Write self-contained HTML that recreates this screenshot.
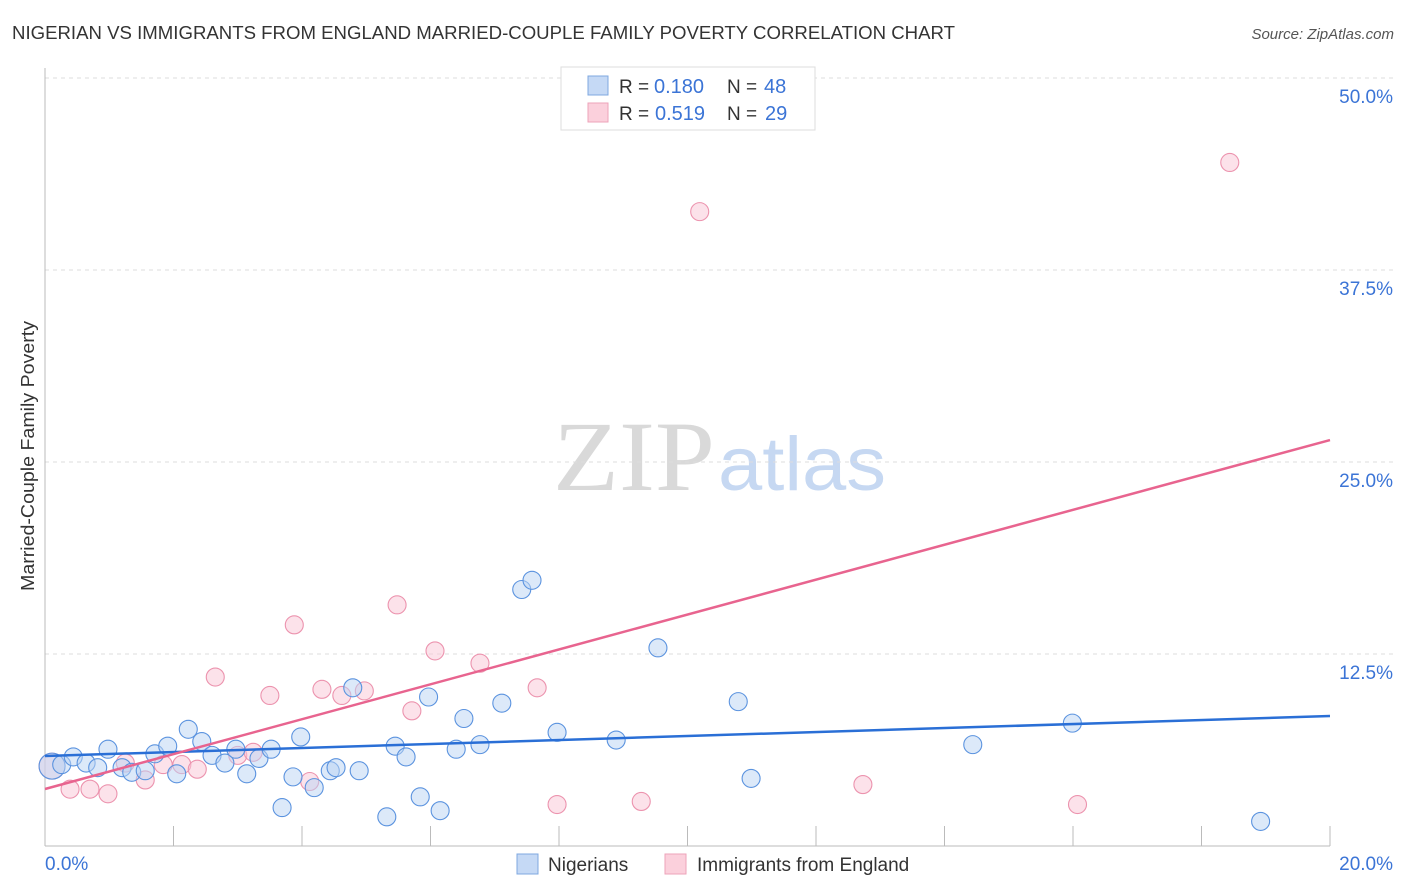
<!DOCTYPE html>
<html><head><meta charset="utf-8"><style>
body{margin:0;background:#fff;font-family:"Liberation Sans",sans-serif;}
#wrap{position:relative;width:1406px;height:892px;overflow:hidden;}
</style></head><body><div id="wrap">
<svg id="svg" width="1406" height="892" xmlns="http://www.w3.org/2000/svg">
<text x="12" y="39" font-size="18" fill="#333" textLength="943" lengthAdjust="spacingAndGlyphs">NIGERIAN VS IMMIGRANTS FROM ENGLAND MARRIED-COUPLE FAMILY POVERTY CORRELATION CHART</text>
<text x="1394" y="39" font-size="15" fill="#555" font-style="italic" text-anchor="end">Source: ZipAtlas.com</text>
<text x="34" y="456" font-size="18" fill="#333" text-anchor="middle" transform="rotate(-90 34 456)" textLength="270" lengthAdjust="spacingAndGlyphs">Married-Couple Family Poverty</text>
<text x="553" y="490" font-size="100" fill="#d9d9d9" font-family="Liberation Serif,serif" textLength="162" lengthAdjust="spacingAndGlyphs">ZIP</text>
<text x="718" y="490" font-size="76" fill="#c6d8f2" textLength="168" lengthAdjust="spacingAndGlyphs">atlas</text>
<g id="grid"></g><g id="axes"></g><g id="pts"></g><g id="lines"></g>
<g>
<rect x="561" y="67" width="254" height="63" fill="#fff" stroke="#ddd"/>
<rect x="588" y="76" width="20" height="19" fill="#c5d9f5" stroke="#7fa8e0"/>
<rect x="588" y="103" width="20" height="19" fill="#fbd0dc" stroke="#eea3ba"/>
<text x="619" y="93" font-size="19" fill="#333">R =</text><text x="654" y="93" font-size="20" fill="#3b74d6">0.180</text>
<text x="727" y="93" font-size="19" fill="#333">N =</text><text x="764" y="93" font-size="20" fill="#3b74d6">48</text>
<text x="619" y="120" font-size="19" fill="#333">R =</text><text x="655" y="120" font-size="20" fill="#3b74d6">0.519</text>
<text x="727" y="120" font-size="19" fill="#333">N =</text><text x="765" y="120" font-size="20" fill="#3b74d6">29</text>
</g>
<g>
<rect x="517" y="854" width="21" height="20" fill="#c5d9f5" stroke="#7fa8e0"/>
<text x="548" y="871" font-size="19" fill="#333">Nigerians</text>
<rect x="665" y="854" width="21" height="20" fill="#fbd0dc" stroke="#eea3ba"/>
<text x="697" y="871" font-size="19" fill="#333">Immigrants from England</text>
</g>
</svg></div>
<script>
const yTicks=[12.5,25.0,37.5,50.0];
const xTickLabels=["0.0%","20.0%"];
const blueX=[0.11,0.26,0.44,0.64,0.82,0.98,1.2,1.35,1.56,1.71,1.91,2.05,2.23,2.44,2.6,2.8,2.97,3.14,3.33,3.52,3.69,3.86,3.98,4.19,4.44,4.53,4.79,4.89,5.32,5.45,5.62,5.84,5.97,6.15,6.4,6.52,6.77,7.11,7.42,7.58,7.97,8.89,9.54,10.79,10.99,14.44,15.99,18.92];
const blueY=[5.2,5.3,5.8,5.4,5.1,6.3,5.1,4.8,4.9,6.0,6.5,4.7,7.6,6.8,5.9,5.4,6.3,4.7,5.7,6.3,2.5,4.5,7.1,3.8,4.9,5.1,10.3,4.9,1.9,6.5,5.8,3.2,9.7,2.3,6.3,8.3,6.6,9.3,16.7,17.3,7.4,6.9,12.9,9.4,4.4,6.6,8.0,1.6];
const pinkX=[0.11,0.39,0.7,0.98,1.25,1.56,1.84,2.13,2.37,2.65,3.0,3.24,3.5,3.88,4.12,4.31,4.62,4.97,5.48,5.71,6.07,6.77,7.66,7.97,9.28,10.19,12.73,16.07,18.44];
const pinkY=[5.2,3.7,3.7,3.4,5.4,4.3,5.3,5.3,5.0,11.0,5.9,6.1,9.8,14.4,4.2,10.2,9.8,10.1,15.7,8.8,12.7,11.9,10.3,2.7,2.9,41.3,4.0,2.7,44.5];
const blueTrend=[5.86,8.46];
const pinkTrend=[3.71,26.43];
const NS="http://www.w3.org/2000/svg";
const X0=45,X1=1330,Y0=846,Y50=78;
const sx=v=>X0+(v/20)*(X1-X0);
const sy=v=>Y0-(v/50)*(Y0-Y50);
function mk(t,a,p){const e=document.createElementNS(NS,t);for(const k in a)e.setAttribute(k,a[k]);p.appendChild(e);return e;}
const grid=document.getElementById('grid'),axes=document.getElementById('axes'),pts=document.getElementById('pts'),lines=document.getElementById('lines');
yTicks.forEach(v=>{
 const l=mk('line',{x1:X0,x2:1393,y1:sy(v),y2:sy(v),stroke:'#ddd','stroke-dasharray':'4,4'},grid);
 
 
 const t=mk('text',{x:1393,y:sy(v)+25,'font-size':19,fill:'#3b74d6','text-anchor':'end'},grid);
 t.textContent=v.toFixed(1)+'%';
 
 
});
const ax=mk('line',{x1:X0,x2:X0,y1:68,y2:Y0,stroke:'#bbb'},axes);


const bx=mk('line',{x1:X0,x2:X1,y1:Y0,y2:Y0,stroke:'#bbb'},axes);


for(let i=1;i<=10;i++){const tk=mk('line',{x1:sx(i*2),x2:sx(i*2),y1:826,y2:Y0,stroke:'#bbb'},axes);
 
 }
const xl0=mk('text',{x:45,y:870,'font-size':19,fill:'#3b74d6'},axes);xl0.textContent=xTickLabels[0];


const xl1=mk('text',{x:1393,y:870,'font-size':19,fill:'#3b74d6','text-anchor':'end'},axes);xl1.textContent=xTickLabels[1];


function dots(xs,ys,fill,stroke,name){xs.forEach((x,i)=>{
 const c=mk('circle',{cx:sx(x),cy:sy(ys[i]),r:i===0?13:9,fill:fill,'fill-opacity':0.5,stroke:stroke,'stroke-width':1.1},pts);
 
 });}
dots(pinkX,pinkY,'#f9c6d5','#ec93ae','england-point');
dots(blueX,blueY,'#bad3f3','#5b93df','nigerian-point');
const bl=mk('line',{x1:sx(0),y1:sy(blueTrend[0]),x2:sx(20),y2:sy(blueTrend[1]),stroke:'#2a6fd6','stroke-width':2.5},lines);


const pl=mk('line',{x1:sx(0),y1:sy(pinkTrend[0]),x2:sx(20),y2:sy(pinkTrend[1]),stroke:'#e8648f','stroke-width':2.5},lines);


</script></body></html>
